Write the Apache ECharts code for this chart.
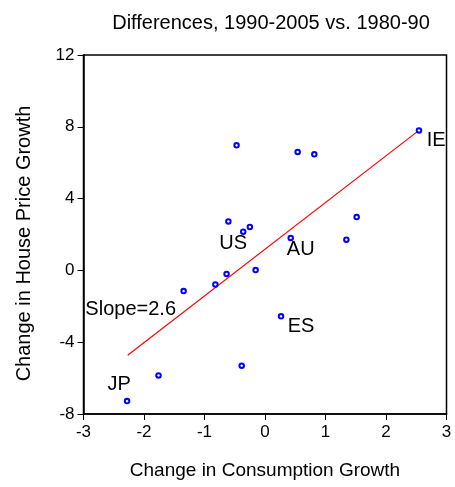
<!DOCTYPE html>
<html><head><meta charset="utf-8">
<script src="https://cdn.jsdelivr.net/npm/echarts@6/dist/echarts.min.js"></script>
<style>html,body{margin:0;padding:0;background:#fff}#c{width:455px;height:487px}</style>
</head><body><div id="c"></div>
<script>
const pointsX = [-0.47, 0.54, 0.815, 2.545, 1.515, -0.605, -0.36, -0.25, 0.425, 1.345, -0.155, -0.635, -0.82, -1.345, 0.265, -0.385, -1.76, -2.28];
const pointsY = [6.97, 6.60, 6.47, 7.80, 2.97, 2.73, 2.16, 2.42, 1.81, 1.71, 0.02, -0.20, -0.78, -1.15, -2.56, -5.31, -5.85, -7.28];
const fitX = [-2.27, 2.545];
const fitY = [-4.73, 7.80];
const labelNames = ['IE', 'US', 'AU', 'ES', 'JP', 'Slope=2.6'];
const labelX = [2.83, -0.525, 0.59, 0.595, -2.41, -2.22];
const labelY = [7.21, 1.51, 1.14, -3.10, -6.35, -2.17];
const xTicks = [-3, -2, -1, 0, 1, 2, 3];
const yTicks = [-8, -4, 0, 4, 8, 12];

const font = 'Liberation Sans, Arial, sans-serif';
const chart = echarts.init(document.getElementById('c'), null, {renderer: 'canvas'});
chart.setOption({
  animation: false,
  backgroundColor: '#fff',
  title: {
    text: 'Differences, 1990-2005 vs. 1980-90',
    left: 266, top: 8, textAlign: 'center',
    textStyle: {fontFamily: font, fontSize: 20, fontWeight: 'normal', color: '#000'}
  },
  grid: {left: 83.5, right: 8.5, top: 55, bottom: 73, show: true, borderColor: '#000', borderWidth: 1.5, containLabel: false},
  xAxis: {
    type: 'value', min: xTicks[0], max: xTicks[xTicks.length - 1], interval: 1,
    name: 'Change in Consumption Growth', nameLocation: 'middle', nameGap: 47,
    nameTextStyle: {fontFamily: font, fontSize: 19, color: '#000'},
    axisLine: {show: true, onZero: false, lineStyle: {color: '#000', width: 1.5}},
    axisTick: {show: true, length: 6, lineStyle: {color: '#000'}},
    axisLabel: {fontFamily: font, fontSize: 17, color: '#000', margin: 10},
    splitLine: {show: false}
  },
  yAxis: {
    type: 'value', min: yTicks[0], max: yTicks[yTicks.length - 1], interval: 4,
    name: 'Change in House Price Growth', nameLocation: 'middle', nameGap: 49,
    nameTextStyle: {fontFamily: font, fontSize: 20, color: '#000', padding: [0, 18, 0, 0]},
    axisLine: {show: true, onZero: false, lineStyle: {color: '#000', width: 1.5}},
    axisTick: {show: true, length: 6, lineStyle: {color: '#000'}},
    axisLabel: {fontFamily: font, fontSize: 17, color: '#000', margin: 9},
    splitLine: {show: false}
  },
  series: [
    {
      type: 'line', data: fitX.map((x, i) => [x, fitY[i]]),
      showSymbol: false, symbol: 'none', lineStyle: {color: '#ff0000', width: 1.2}, z: 2
    },
    {
      type: 'scatter', data: pointsX.map((x, i) => [x, pointsY[i]]),
      symbol: 'emptyCircle', symbolSize: 4.5,
      itemStyle: {color: '#0000ff', borderColor: '#0000ff', borderWidth: 1.2, opacity: 1}, z: 3
    },
    {
      type: 'scatter', data: labelX.map((x, i) => ({value: [x, labelY[i]], name: labelNames[i]})),
      symbolSize: 0, itemStyle: {opacity: 1},
      label: {show: true, position: 'inside', formatter: p => p.name, fontFamily: font, fontSize: 20, color: '#000', textBorderWidth: 0, opacity: 1},
      z: 4
    }
  ]
});
</script></body></html>
